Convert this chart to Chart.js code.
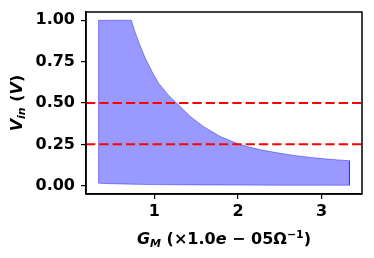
<!DOCTYPE html>
<html>
<head>
<meta charset="utf-8">
<script src="https://cdn.jsdelivr.net/npm/chart.js@4"></script>
<style>
html, body { margin: 0; padding: 0; background: #fff; }
canvas { display: block; }
</style>
</head>
<body>
<canvas id="c" width="374" height="258"></canvas>
<script>
// --- data ---
const upperX = [0.333, 0.725, 0.772, 0.832, 0.892, 0.972, 1.051, 1.171, 1.27, 1.43, 1.59, 1.79, 2.03, 2.27, 2.47, 2.67, 2.87, 3.07, 3.2, 3.333];
const upperY = [1.0, 1.0, 0.925, 0.845, 0.77, 0.69, 0.62, 0.546, 0.498, 0.418, 0.357, 0.297, 0.247, 0.217, 0.199, 0.183, 0.171, 0.161, 0.156, 0.151];
const lowerX = [0.333, 0.5, 0.75, 1.0, 1.5, 2.0, 2.5, 3.0, 3.333];
const lowerY = [0.015, 0.012, 0.009, 0.007, 0.005, 0.004, 0.003, 0.003, 0.003];
const hLines = [0.5, 0.25];
const xTicks = [1, 2, 3];
const yTicks = [0, 0.25, 0.5, 0.75, 1.0];
const xRange = [0.183, 3.483];
const yRange = [-0.05, 1.05];

// closed outline of the shaded band (upper curve, then lower curve backwards)
const band = upperX.map((x, i) => ({ x: x, y: upperY[i] }));
for (let i = lowerX.length - 1; i >= 0; i--) band.push({ x: lowerX[i], y: lowerY[i] });
band.push({ x: upperX[0], y: upperY[0] });

const FONT = "'DejaVu Sans', sans-serif";
const FS = 16;

const redLines = hLines.map(v => ({
    type: 'line',
    data: [{ x: xRange[0], y: v }, { x: xRange[1], y: v }],
    borderColor: '#ff0000',
    borderWidth: 2,
    borderDash: [9.3, 4],
    pointRadius: 0,
    fill: false,
    order: 0
}));

// draws mixed text runs: [text, style, sizeScale, yShift]
function drawRuns(ctx, runs, x, y) {
    let w = 0;
    runs.forEach(r => {
        ctx.font = r[1] + ' ' + Math.round(FS * r[2]) + 'px ' + FONT;
        w += ctx.measureText(r[0]).width;
    });
    let cx = x - w / 2;
    runs.forEach(r => {
        ctx.font = r[1] + ' ' + Math.round(FS * r[2]) + 'px ' + FONT;
        ctx.fillText(r[0], cx, y + r[3]);
        cx += ctx.measureText(r[0]).width;
    });
}

const frameAndLabels = {
    id: 'frameAndLabels',
    afterDraw(chart) {
        const ctx = chart.ctx;
        const a = chart.chartArea;
        ctx.save();
        ctx.strokeStyle = '#000';
        ctx.lineWidth = 1.5;
        ctx.strokeRect(a.left, a.top, a.right - a.left, a.bottom - a.top);

        ctx.fillStyle = '#000';
        ctx.textBaseline = 'alphabetic';
        // x title
        drawRuns(ctx, [
            ['G', 'italic bold', 1, 0],
            ['M', 'italic bold', 0.7, 3],
            [' (×1.0', 'bold', 1, 0],
            ['e', 'italic bold', 1, 0],
            [' − 05Ω', 'bold', 1, 0],
            ['−1', 'bold', 0.7, -6],
            [')', 'bold', 1, 0]
        ], (a.left + a.right) / 2, 244);

        // y title
        ctx.translate(22, (a.top + a.bottom) / 2);
        ctx.rotate(-Math.PI / 2);
        drawRuns(ctx, [
            ['V', 'italic bold', 1, 0],
            ['in', 'italic bold', 0.7, 3],
            [' (', 'bold', 1, 0],
            ['V', 'italic bold', 1, 0],
            [')', 'bold', 1, 0]
        ], 0, 0);
        ctx.restore();
    }
};

new Chart(document.getElementById('c'), {
    type: 'line',
    data: {
        datasets: [
            ...redLines,
            {
                type: 'line',
                data: band,
                backgroundColor: 'rgba(0,0,255,0.4)',
                borderColor: 'rgba(0,0,255,0.4)',
                borderWidth: 1,
                pointRadius: 0,
                tension: 0,
                fill: 'shape',
                order: 1
            }
        ]
    },
    options: {
        responsive: false,
        animation: false,
        events: [],
        layout: { padding: { top: 12, right: 12, left: 0, bottom: 0 } },
        plugins: { legend: { display: false }, tooltip: { enabled: false } },
        scales: {
            x: {
                type: 'linear',
                min: xRange[0],
                max: xRange[1],
                afterBuildTicks: s => { s.ticks = xTicks.map(v => ({ value: v })); },
                afterFit: s => { s.height = 64; s.paddingLeft = 0; s.paddingRight = 0; },
                ticks: { color: '#000', padding: 3, maxRotation: 0, font: { family: FONT, size: FS, weight: 'bold' } },
                grid: { drawOnChartArea: false, tickLength: 5, color: '#000', lineWidth: 1.2 },
                border: { color: '#000', width: 1.5 }
            },
            y: {
                type: 'linear',
                min: yRange[0],
                max: yRange[1],
                afterBuildTicks: s => { s.ticks = yTicks.map(v => ({ value: v })); },
                afterFit: s => { s.width = 86; s.paddingTop = 0; s.paddingBottom = 0; },
                ticks: { color: '#000', padding: 6, callback: v => v.toFixed(2), font: { family: FONT, size: FS, weight: 'bold' } },
                grid: { drawOnChartArea: false, tickLength: 5, color: '#000', lineWidth: 1.2 },
                border: { color: '#000', width: 1.5 }
            }
        }
    },
    plugins: [frameAndLabels]
});
</script>
</body>
</html>
